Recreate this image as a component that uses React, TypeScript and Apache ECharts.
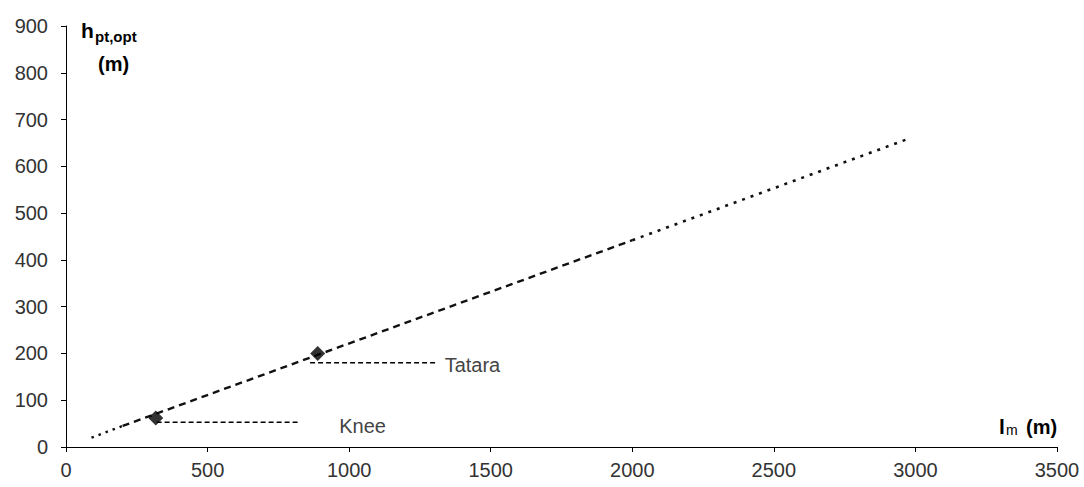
import React, { useEffect, useRef } from "react";
import * as echarts from "echarts";

const xTicks = [0, 500, 1000, 1500, 2000, 2500, 3000, 3500];
const yTicks = [0, 100, 200, 300, 400, 500, 600, 700, 800, 900];

// trend line pieces (l_m, h_pt,opt)
const startDotX = [90, 200];
const startDotY = [20, 45];
const dashedX = [200, 2000];
const dashedY = [45, 442];
const endDotX = [2000, 2980];
const endDotY = [442, 660];

const pointNames = ["Knee", "Tatara"];
const pointX = [317, 889];
const pointY = [62, 200];

const leaderStartX = [320, 862];
const leaderEndX = [820, 1309];
const leaderY = [53, 180];

const FONT = "'Liberation Sans', Arial, sans-serif";

export default function App() {
  const ref = useRef<HTMLDivElement>(null);
  useEffect(() => {
    document.body.style.margin = "0";
    if (!ref.current) return;
    const chart = echarts.init(ref.current, undefined, { renderer: "svg" });
    const pair = (xs: number[], ys: number[]) => xs.map((x, i) => [x, ys[i]]);
    const leaderSeries = pointNames.map((name, i) => ({
      type: "line",
      name: name + " leader",
      data: [
        [leaderStartX[i], leaderY[i]],
        [leaderEndX[i], leaderY[i]],
      ],
      symbol: "none",
      lineStyle: { color: "#000", width: 1.4, type: [5, 3] },
      endLabel: {
        show: true,
        formatter: name,
        color: "#444",
        fontSize: 20,
        fontFamily: FONT,
        distance: i === 0 ? 41 : 8,
        offset: [0, i === 0 ? 4 : 2],
      },
      z: 1,
    }));
    chart.setOption({
      animation: false,
      grid: { left: 66, right: 27, top: 26, bottom: 40, containLabel: false },
      xAxis: {
        type: "value",
        min: 0,
        max: 3500,
        interval: 500,
        splitLine: { show: false },
        axisLine: { lineStyle: { color: "#000", width: 1 } },
        axisTick: { show: true, length: 5, lineStyle: { color: "#000" } },
        axisLabel: {
          color: "#333",
          fontSize: 20,
          fontFamily: FONT,
          margin: 13,
          formatter: (v: number) => String(v),
        },
      },
      yAxis: {
        type: "value",
        min: 0,
        max: 900,
        interval: 100,
        splitLine: { show: false },
        axisLine: { show: true, lineStyle: { color: "#000", width: 1 } },
        axisTick: { show: true, length: 5, lineStyle: { color: "#000" } },
        axisLabel: {
          color: "#333",
          fontSize: 20,
          fontFamily: FONT,
          margin: 18,
          formatter: (v: number) => String(v),
        },
      },
      series: [
        {
          type: "line",
          data: pair(startDotX, startDotY),
          symbol: "none",
          lineStyle: { color: "#111", width: 2.4, type: [2.5, 5] },
        },
        {
          type: "line",
          data: pair(dashedX, dashedY),
          symbol: "none",
          lineStyle: { color: "#111", width: 2.4, type: [7, 5] },
        },
        {
          type: "line",
          data: pair(endDotX, endDotY),
          symbol: "none",
          lineStyle: { color: "#111", width: 2.6, type: [3, 6] },
        },
        ...leaderSeries,
        {
          type: "scatter",
          data: pair(pointX, pointY),
          symbol: "diamond",
          symbolSize: 15,
          itemStyle: { color: "#000" },
          z: 5,
        },
      ],
      graphic: [
        { type: "text", left: 81, top: 20, style: { text: "h", font: `bold 21px ${FONT}`, fill: "#000" } },
        { type: "text", left: 95, top: 29, style: { text: "pt,opt", font: `bold 15px ${FONT}`, fill: "#000" } },
        { type: "text", left: 98, top: 54, style: { text: "(m)", font: `bold 20px ${FONT}`, fill: "#000" } },
        { type: "text", left: 999, top: 416, style: { text: "l", font: `bold 21px ${FONT}`, fill: "#000" } },
        { type: "text", left: 1006, top: 423, style: { text: "m", font: `14px ${FONT}`, fill: "#000" } },
        { type: "text", left: 1026, top: 417, style: { text: "(m)", font: `bold 20px ${FONT}`, fill: "#000" } },
      ],
    });
    return () => chart.dispose();
  }, []);
  return <div ref={ref} style={{ width: 1084, height: 487 }} />;
}
